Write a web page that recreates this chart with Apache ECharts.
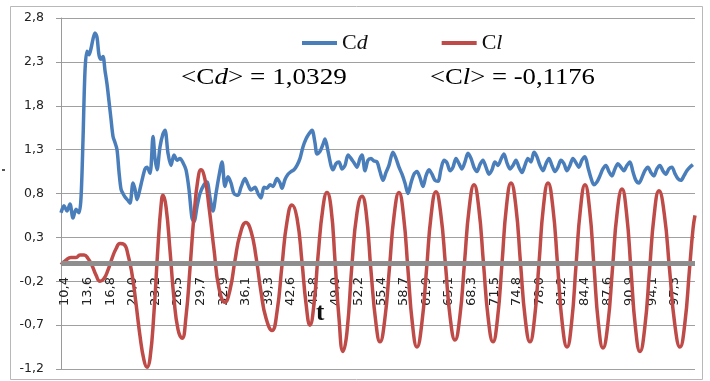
<!DOCTYPE html>
<html>
<head>
<meta charset="utf-8">
<script src="https://cdn.jsdelivr.net/npm/echarts@6/dist/echarts.min.js"></script>
<style>html,body{margin:0;padding:0;background:#fff}#c{width:710px;height:381px}</style>
</head>
<body>
<div id="c"></div>
<script>
// x-axis tick labels (t)
const tickLabels = ['10,4','13,6','16,8','20,0','23,2','26,5','29,7','32,9','36,1','39,3','42,6','45,8','49,0','52,2','55,4','58,7','61,9','65,1','68,3','71,5','74,8','78,0','81,2','84,4','87,6','90,9','94,1','97,3'];
const seriesNames = ['Cd', 'Cl'];
const meanCd = '1,0329';
const meanCl = '-0,1176';

// Cd series: time and value
const cdT = [10.40,10.83,11.25,11.68,12.11,12.54,12.96,13.25,13.53,13.82,14.10,14.39,14.67,14.96,15.24,15.53,15.81,16.10,16.38,16.67,16.95,17.24,17.52,17.81,18.09,18.38,18.66,18.95,19.23,19.52,19.95,20.23,20.66,20.94,21.23,21.65,21.94,22.37,22.65,23.08,23.51,23.79,24.08,24.50,24.93,25.22,25.64,26.07,26.50,26.93,27.35,27.78,28.21,28.63,29.06,29.35,29.78,30.20,30.77,31.20,31.63,32.05,32.48,32.91,33.34,33.76,34.19,34.62,35.04,35.61,36.04,36.61,37.04,37.47,38.04,38.46,38.89,39.32,39.75,40.17,40.60,41.17,41.60,41.88,42.31,42.74,43.17,43.59,44.02,44.45,44.87,45.30,45.73,46.16,46.58,46.87,47.30,47.72,48.01,48.44,48.86,49.15,49.58,50.00,50.43,50.86,51.29,51.71,52.14,52.57,52.99,53.28,53.71,54.13,54.56,54.99,55.42,55.84,56.27,56.70,57.12,57.69,58.12,58.55,58.98,59.40,59.83,60.26,60.68,61.11,61.54,61.97,62.39,62.82,63.25,63.68,64.11,64.54,64.96,65.39,65.82,66.24,66.67,67.10,67.52,67.95,68.38,68.81,69.23,69.66,70.09,70.51,70.94,71.37,71.80,72.22,72.65,73.08,73.50,73.93,74.36,74.79,75.21,75.64,76.07,76.49,76.92,77.35,77.78,78.20,78.63,79.06,79.49,79.91,80.34,80.77,81.19,81.62,82.05,82.48,82.90,83.33,83.76,84.18,84.61,85.04,85.47,85.89,86.32,86.75,87.17,87.60,88.03,88.46,88.88,89.31,89.74,90.16,90.59,91.02,91.45,91.87,92.30,92.73,93.15,93.58,94.01,94.44,94.86,95.29,95.72,96.14,96.57,97.00,97.43,97.85,98.28,98.71,99.14,99.56,99.99,100.42];
const cdV = [0.58,0.66,0.60,0.68,0.52,0.62,0.58,0.75,1.40,2.20,2.42,2.38,2.45,2.56,2.63,2.58,2.38,2.33,2.36,2.20,2.05,1.85,1.65,1.45,1.38,1.30,1.05,0.85,0.80,0.76,0.72,0.69,0.92,0.85,0.73,0.85,0.95,1.08,1.10,1.03,1.45,1.20,1.07,1.33,1.48,1.52,1.26,1.12,1.24,1.18,1.20,1.15,1.07,0.85,0.52,0.48,0.65,0.80,0.90,0.93,0.75,0.60,0.80,1.00,1.16,0.88,0.99,0.92,0.80,0.78,0.87,0.97,0.90,0.84,0.87,0.80,0.75,0.87,0.86,0.90,0.88,0.97,0.92,0.86,0.96,1.02,1.05,1.07,1.12,1.20,1.33,1.42,1.48,1.52,1.38,1.25,1.28,1.36,1.42,1.28,1.12,1.07,1.14,1.16,1.08,1.12,1.24,1.20,1.15,1.10,1.20,1.24,1.06,1.18,1.20,1.17,1.16,1.05,0.95,1.04,1.12,1.27,1.20,1.10,1.02,0.92,0.80,0.92,1.02,1.05,0.98,0.88,1.00,1.07,1.02,0.95,0.94,1.08,1.18,1.15,1.06,1.10,1.20,1.14,1.08,1.16,1.26,1.20,1.10,1.05,1.13,1.18,1.10,1.02,1.07,1.16,1.12,1.19,1.25,1.15,1.08,1.12,1.18,1.10,1.04,1.12,1.20,1.16,1.27,1.22,1.12,1.06,1.14,1.20,1.12,1.05,1.10,1.18,1.14,1.06,1.12,1.20,1.15,1.10,1.18,1.22,1.10,0.98,0.90,0.93,1.00,1.08,1.12,1.05,1.00,1.08,1.14,1.10,1.06,1.12,1.16,1.05,0.95,0.92,0.98,1.06,1.10,1.04,1.00,1.08,1.12,1.06,1.02,1.08,1.10,1.03,0.97,0.95,1.00,1.06,1.10,1.13];

// Cl series: time and value
const clT = [10.40,11.11,11.82,12.54,13.11,13.68,14.25,14.82,15.39,15.96,16.53,17.10,17.67,18.24,18.81,19.38,19.95,20.52,21.08,21.65,22.22,22.65,23.08,23.65,24.22,24.65,24.93,25.36,25.93,26.50,27.07,27.64,28.21,28.78,29.35,29.92,30.34,30.91,31.48,32.20,32.91,33.76,34.47,35.19,35.90,36.75,37.47,38.18,38.89,39.60,40.46,41.17,41.88,42.60,43.31,44.02,44.73,45.30,45.87,46.44,47.01,47.72,48.29,48.86,49.43,50.00,50.57,51.14,51.86,52.57,53.28,53.85,54.56,55.27,55.84,56.52,57.20,57.87,58.55,59.19,59.83,60.47,61.11,61.79,62.47,63.14,63.82,64.50,65.18,65.85,66.53,67.21,67.88,68.56,69.24,69.91,70.59,71.27,71.94,72.58,73.23,73.87,74.51,75.19,75.86,76.54,77.21,77.85,78.50,79.14,79.78,80.46,81.14,81.81,82.49,83.13,83.77,84.41,85.05,85.69,86.33,86.97,87.61,88.29,88.97,89.64,90.32,90.96,91.60,92.24,92.88,93.56,94.24,94.91,95.59,96.34,97.09,97.84,98.58,99.26,99.94,100.44,100.72];
const clV = [-0.01,0.04,0.07,0.07,0.10,0.10,0.06,-0.02,-0.13,-0.20,-0.17,-0.07,0.06,0.17,0.23,0.22,0.10,-0.12,-0.45,-0.82,-1.10,-1.18,-1.08,-0.55,0.20,0.66,0.78,0.65,0.15,-0.40,-0.75,-0.85,-0.60,-0.05,0.55,0.97,1.07,0.96,0.65,0.16,-0.28,-0.44,-0.30,0.04,0.33,0.47,0.37,0.08,-0.32,-0.62,-0.76,-0.55,-0.02,0.48,0.67,0.52,0.02,-0.45,-0.70,-0.46,0.08,0.64,0.81,0.64,0.04,-0.62,-1.00,-0.78,0.00,0.58,0.77,0.60,-0.08,-0.68,-0.89,-0.64,-0.04,0.56,0.81,0.55,-0.07,-0.69,-0.95,-0.69,-0.07,0.56,0.82,0.57,-0.02,-0.62,-0.87,-0.61,0.01,0.64,0.90,0.64,0.00,-0.63,-0.89,-0.63,0.01,0.66,0.92,0.66,0.01,-0.63,-0.89,-0.63,0.01,0.66,0.92,0.65,-0.01,-0.68,-0.95,-0.68,-0.02,0.63,0.90,0.63,-0.03,-0.69,-0.96,-0.70,-0.05,0.59,0.85,0.58,-0.07,-0.73,-1.00,-0.73,-0.08,0.56,0.83,0.57,-0.06,-0.69,-0.95,-0.69,-0.06,0.40,0.55];

const X0 = 10.4, XSTEP = 3.2185;
const chart = echarts.init(document.getElementById('c'), null, {renderer: 'canvas'});
const serif = 'Liberation Serif';
const richLegend = {
  c: {fontFamily: serif, fontSize: 22, color: '#111'},
  i: {fontFamily: serif, fontSize: 22, fontStyle: 'italic', color: '#111'}
};
const richAnn = {
  n: {fontFamily: serif, fontSize: 23, color: '#111'},
  i: {fontFamily: serif, fontSize: 23, fontStyle: 'italic', color: '#111'}
};
chart.setOption({
  animation: false,
  backgroundColor: '#fff',
  grid: {left: 61, right: 15, top: 18, bottom: 12, containLabel: false, outerBoundsMode: 'none'},
  legend: {
    data: seriesNames,
    left: 297, top: 26,
    icon: 'rect', itemWidth: 35, itemHeight: 4, itemGap: 74,
    textStyle: {fontFamily: serif, fontSize: 22, lineHeight: 24, color: '#111', rich: richLegend},
    formatter: n => '{c|' + n.charAt(0) + '}{i|' + n.slice(1) + '}'
  },
  xAxis: {
    type: 'value', min: X0, max: 100.72, interval: XSTEP,
    position: 'bottom',
    axisLine: {show: false, onZero: false},
    axisTick: {show: false},
    splitLine: {show: false},
    axisLabel: {
      rotate: 90, margin: -92, fontFamily: 'DejaVu Sans', fontSize: 13, color: '#222',
      verticalAlign: 'top', lineHeight: 8,
      showMinLabel: true, showMaxLabel: false,
      formatter: v => {
        const k = Math.round((v - X0) / XSTEP);
        if (k < 0 || k >= tickLabels.length || Math.abs(v - (X0 + k * XSTEP)) > 0.01) return '';
        return tickLabels[k];
      }
    }
  },
  yAxis: {
    type: 'value', min: -1.2, max: 2.8, interval: 0.5,
    axisLine: {show: true, lineStyle: {color: '#9a9a9a', width: 1}},
    axisTick: {show: true, length: 5, lineStyle: {color: '#9a9a9a'}},
    splitLine: {show: true, lineStyle: {color: '#a0a0a0', width: 1}},
    axisLabel: {
      margin: 17, fontFamily: 'DejaVu Sans', fontSize: 12.5, color: '#222',
      formatter: v => v.toFixed(1).replace('.', ',')
    }
  },
  series: [
    {
      name: seriesNames[0], type: 'line', symbol: 'none', smooth: 0.3,
      data: cdT.map((t, i) => [t, cdV[i]]),
      lineStyle: {color: '#4a7ebb', width: 3.5, join: 'round'},
      itemStyle: {color: '#4a7ebb'}, z: 2,
      markLine: {
        silent: true, symbol: 'none', label: {show: false},
        lineStyle: {color: '#8e8e8e', width: 5, type: 'solid'},
        emphasis: {disabled: true},
        data: [{yAxis: 0}]
      }
    },
    {
      name: seriesNames[1], type: 'line', symbol: 'none', smooth: 0.5,
      data: clT.map((t, i) => [t, clV[i]]),
      lineStyle: {color: '#be4b48', width: 3.5, join: 'round'},
      itemStyle: {color: '#be4b48'}, z: 3
    }
  ],
  graphic: [
    {type: 'rect', shape: {x: 10.5, y: 6.5, width: 692, height: 373}, style: {fill: 'none', stroke: '#b8b8b8', lineWidth: 1}, silent: true},
    {type: 'text', x: 181, y: 78, scaleX: 1.18, style: {text: '{n|<C}{i|d}{n|> = ' + meanCd + '}', rich: richAnn, verticalAlign: 'middle', align: 'left'}},
    {type: 'text', x: 430, y: 78, scaleX: 1.16, style: {text: '{n|<C}{i|l}{n|> = ' + meanCl + '}', rich: richAnn, verticalAlign: 'middle', align: 'left'}},
    {type: 'text', x: 316, y: 314, style: {text: 't', fontFamily: serif, fontWeight: 'bold', fontSize: 25, fill: '#111', verticalAlign: 'middle'}},
    {type: 'rect', shape: {x: 2, y: 169, width: 3, height: 2}, style: {fill: '#555'}, silent: true}
  ]
});
</script>
</body>
</html>
